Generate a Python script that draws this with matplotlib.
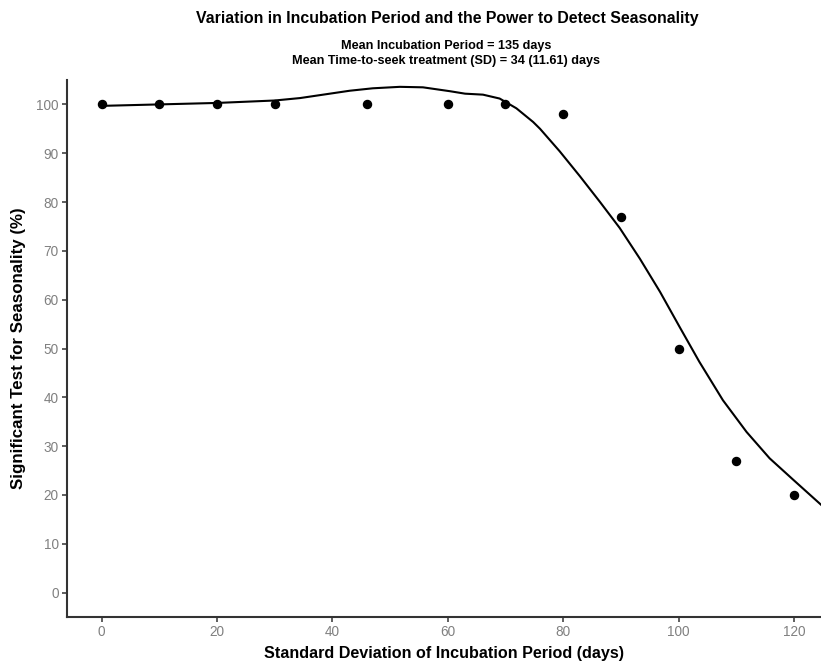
import matplotlib
matplotlib.use('Agg')
import matplotlib.pyplot as plt

plt.rcParams['font.family'] = ['Liberation Sans', 'DejaVu Sans']

# observed power at each SD of incubation period
sd_days = [0, 10, 20, 30, 46, 60, 70, 80, 90, 100, 110, 120]
power_pct = [100, 100, 100, 100, 100, 100, 100, 98, 77, 50, 27, 20]

# smoothed curve
smooth_x = [0, 10, 20, 26, 30, 34.4, 43, 47, 51.7, 55.7, 60.4, 63, 66.1, 69,
            71.9, 74.8, 76, 79.4, 82.9, 86.4, 89.8, 93.3, 96.8, 100.2, 103.6,
            107.7, 111.8, 115.8, 119.9, 124.7]
smooth_y = [99.7, 100.0, 100.3, 100.6, 100.8, 101.3, 102.8, 103.3, 103.6, 103.5,
            102.7, 102.2, 102.0, 101.2, 99.2, 96.4, 95.0, 90.4, 85.3, 80.0, 74.7,
            68.4, 61.6, 54.4, 47.3, 39.4, 32.9, 27.5, 23.1, 18.0]

x_ticks = [0, 20, 40, 60, 80, 100, 120]
y_ticks = [0, 10, 20, 30, 40, 50, 60, 70, 80, 90, 100]

fig = plt.figure(figsize=(8.21, 6.65), dpi=100)
ax = fig.add_axes([67/821, 1 - 617/665, 1 - 67/821, (617 - 80)/665])

ax.plot(smooth_x, smooth_y, color='black', lw=1.5, zorder=2,
        solid_joinstyle='round')
ax.plot(sd_days, power_pct, 'o', color='black', markersize=5.8, zorder=3)

ax.set_xlim(-6.0, 124.7)
ax.set_ylim(-5, 105)
ax.set_xticks(x_ticks)
ax.set_yticks(y_ticks)

for side in ['top', 'right']:
    ax.spines[side].set_visible(False)
for side in ['left', 'bottom']:
    ax.spines[side].set_linewidth(1.5)
    ax.spines[side].set_color('#333333')
ax.tick_params(direction='out', length=3.5, width=1.1, color='#333333',
               labelcolor='#808080', labelsize=9.8, pad=2.5)

ax.set_xlabel('Standard Deviation of Incubation Period (days)', fontsize=11.6,
              fontweight='bold', labelpad=5)
ax.set_ylabel('Significant Test for Seasonality (%)', fontsize=12.2,
              fontweight='bold', labelpad=7)

fig.text(447/821, 1 - 19/665,
         'Variation in Incubation Period and the Power to Detect Seasonality',
         ha='center', va='center', fontsize=11.4, fontweight='bold')
fig.text(446/821, 1 - 46/665, 'Mean Incubation Period = 135 days',
         ha='center', va='center', fontsize=9.1, fontweight='bold')
fig.text(446/821, 1 - 61/665, 'Mean Time-to-seek treatment (SD) = 34 (11.61) days',
         ha='center', va='center', fontsize=9.1, fontweight='bold')

fig.savefig('out.png', dpi=100)
